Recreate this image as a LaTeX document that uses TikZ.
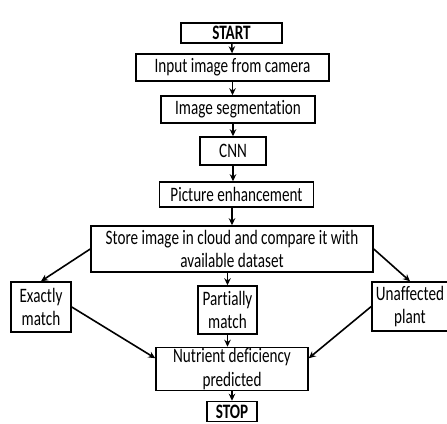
\documentclass[tikz,border=0pt]{standalone}
\usepackage{fontspec}
\setmainfont{Carlito}[FakeStretch=0.74,Ligatures=NoCommon]
\usetikzlibrary{arrows.meta}

\begin{document}
\begin{tikzpicture}[x=1pt,y=-1pt]
\tikzset{box/.style={draw,line width=1.5pt,align=center,inner sep=1pt,
  font=\fontsize{20.5}{23.5}\selectfont}}
\tikzset{arr/.style={-{Stealth[length=7pt,width=6.5pt]},line width=1.6pt}}

\useasboundingbox (0,0) rectangle (447,423);

\path (231.5,33) node[box,minimum width=101pt,minimum height=20pt,font=\fontsize{20.5}{23.5}\selectfont\bfseries] (start) {START};
\path (232.5,67.5) node[box,minimum width=193pt,minimum height=27pt] (input) {Input image from camera};
\path (238,109.5) node[box,minimum width=154pt,minimum height=27pt] (seg) {Image segmentation};
\path (233,151) node[box,minimum width=66pt,minimum height=28pt] (cnn) {CNN};
\path (236.5,194.5) node[box,minimum width=154pt,minimum height=25pt] (enh) {Picture enhancement};
\path (232,249) node[box,minimum width=282pt,minimum height=46pt] (store) {Store image in cloud and compare it with\\available dataset};
\path (41,307) node[box,minimum width=60pt,minimum height=50pt] (exact) {Exactly\\match};
\path (227.5,310) node[box,minimum width=59pt,minimum height=48pt] (part) {Partially\\match};
\path (410,306.5) node[box,minimum width=76pt,minimum height=49pt] (unaff) {Unaffected\\plant};
\path (232,369) node[box,minimum width=152pt,minimum height=42pt] (nutr) {Nutrient deficiency\\predicted};
\path (232,411.5) node[box,minimum width=50pt,minimum height=20pt,font=\fontsize{20.5}{23.5}\selectfont\bfseries] (stop) {STOP};

\draw[arr] (start) -- (input);
\draw[arr] (input) -- (seg.north -| input);
\draw[arr] (seg.south -| cnn) -- (cnn);
\draw[arr] (cnn) -- (enh.north -| cnn);
\draw[arr] (enh.south -| store) -- (store);
\draw[arr] (store.west) -- (exact.north);
\draw[arr] (store.east) -- (unaff.north);
\draw[arr] (store.south -| part) -- (part);
\draw[arr] (exact.east) -- (nutr.172);
\draw[arr] (unaff.west) -- (nutr.8);
\draw[arr] (part) -- (nutr.north -| part);
\draw[arr] (nutr) -- (stop);
\end{tikzpicture}
\end{document}
